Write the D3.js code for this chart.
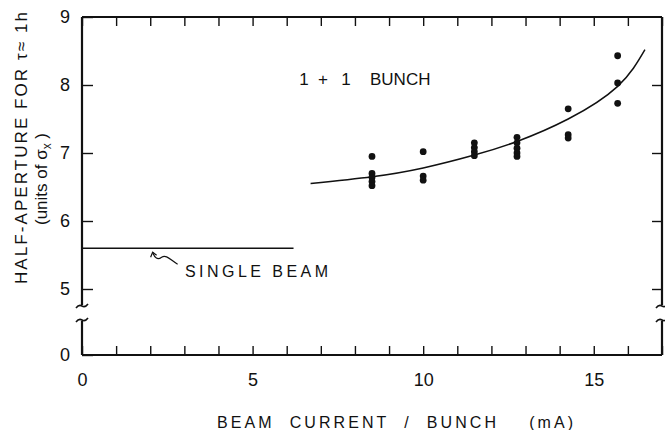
<!DOCTYPE html>
<html>
<head>
<meta charset="utf-8">
<script src="https://cdn.jsdelivr.net/npm/d3@7"></script>
<style>
  body { margin: 0; background: #fff; }
  svg { display: block; font-family: "Liberation Sans", Arial, sans-serif; }
  .tick text { font-size: 18px; fill: #111; }
</style>
</head>
<body>
<svg id="chart" width="665" height="430"></svg>
<script>
// data
const xTicks = d3.range(0, 18);
const xLabels = [0, 5, 10, 15];
const yTicks = [0, 5, 6, 7, 8, 9];
const yRightTicks = [5, 6, 7, 8];

// measured points (beam current per bunch, half-aperture)
const ptCurrent = [8.5, 8.5, 8.5, 8.5, 8.5, 10, 10, 10, 11.5, 11.5, 11.5, 11.5,
  12.75, 12.75, 12.75, 12.75, 12.75, 14.25, 14.25, 14.25, 15.7, 15.7, 15.7];
const ptAperture = [6.95, 6.70, 6.64, 6.58, 6.52, 7.02, 6.66, 6.60, 7.15, 7.08, 7.02, 6.96,
  7.23, 7.15, 7.07, 7.00, 6.95, 7.65, 7.27, 7.22, 8.43, 8.03, 7.73];

// fitted curve
const fitCurrent = [6.7, 8.5, 10, 11.5, 12.75, 14.25, 15.7, 16.5];
const fitAperture = [6.55, 6.65, 6.78, 6.97, 7.17, 7.5, 7.98, 8.52];

// single beam level
const singleCurrent = [0, 6.2];
const singleAperture = [5.6, 5.6];

const svg = d3.select("#chart");

const x = d3.scaleLinear().domain([0, 17]).range([82, 662]);
// broken axis: 0 sits below the break, 5..9 is linear
const y = d3.scaleLinear().domain([0, 5, 9]).range([355, 289, 17]);

// ticks
svg.append("g")
  .attr("transform", `translate(0,${y(0)})`)
  .call(d3.axisBottom(x).tickValues(xTicks).tickSize(-9).tickPadding(18)
    .tickFormat(d => xLabels.includes(d) ? d : ""))
  .call(g => g.select(".domain").remove());

svg.append("g")
  .attr("transform", `translate(0,${y(9)})`)
  .call(d3.axisTop(x).tickValues(xTicks).tickSize(-9).tickFormat(""))
  .call(g => g.select(".domain").remove());

svg.append("g")
  .attr("transform", `translate(${x(0)},0)`)
  .call(d3.axisLeft(y).tickValues(yTicks).tickSize(-11).tickPadding(12))
  .call(g => g.select(".domain").remove());

svg.append("g")
  .attr("transform", `translate(${x(17)},0)`)
  .call(d3.axisRight(y).tickValues(yRightTicks).tickSize(-10).tickFormat(""))
  .call(g => g.select(".domain").remove());

svg.selectAll(".tick line").attr("stroke", "#111").attr("stroke-width", 1.4);

// frame with axis breaks
const frame = svg.append("g").attr("fill", "none").attr("stroke", "#111").attr("stroke-width", 2.2);
const brkTop = y(5) + 16, brkBot = y(5) + 32;
frame.append("line").attr("x1", x(0)).attr("x2", x(17)).attr("y1", y(9)).attr("y2", y(9));
frame.append("line").attr("x1", x(0)).attr("x2", x(17)).attr("y1", y(0)).attr("y2", y(0));
[x(0), x(17)].forEach(ax => {
  frame.append("line").attr("x1", ax).attr("x2", ax).attr("y1", y(9)).attr("y2", brkTop);
  frame.append("line").attr("x1", ax).attr("x2", ax).attr("y1", brkBot).attr("y2", y(0));
  frame.append("path").attr("stroke-width", 1.6)
    .attr("d", `M${ax - 6},${brkTop + 3} q3,-4 6,-2 t6,-2`);
  frame.append("path").attr("stroke-width", 1.6)
    .attr("d", `M${ax - 6},${brkBot + 1} q3,-4 6,-2 t6,-2`);
});

// single beam line
svg.append("line")
  .attr("x1", x(singleCurrent[0])).attr("x2", x(singleCurrent[1]))
  .attr("y1", y(singleAperture[0])).attr("y2", y(singleAperture[1]))
  .attr("stroke", "#111").attr("stroke-width", 1.4);

// little arrow pointing at it
const ax0 = x(2.07), ay0 = y(5.6) + 4;
svg.append("path")
  .attr("fill", "none").attr("stroke", "#111").attr("stroke-width", 1.2)
  .attr("d", `M${ax0 + 25},${ay0 + 12} C${ax0 + 18},${ay0 + 8} ${ax0 + 14},${ay0 + 2} ${ax0 + 9},${ay0 + 5} C${ax0 + 5},${ay0 + 8} ${ax0 + 2},${ay0 + 6} ${ax0},${ay0}`);
svg.append("path")
  .attr("fill", "none").attr("stroke", "#111").attr("stroke-width", 1.2)
  .attr("d", `M${ax0 - 2},${ay0 + 5} L${ax0},${ay0} L${ax0 + 4},${ay0 + 3}`);

svg.append("text")
  .attr("x", 185).attr("y", 277)
  .attr("font-size", 16).attr("fill", "#111")
  .attr("textLength", 143).attr("lengthAdjust", "spacing")
  .text("SINGLE BEAM");

// "1 + 1  BUNCH" label, pieces spaced like the hand lettering
const bunchLabel = [["1", 304], ["+", 323], ["1", 346], ["BUNCH", 370]];
svg.append("g")
  .selectAll("text")
  .data(bunchLabel)
  .join("text")
  .attr("x", d => d[1]).attr("y", 85)
  .attr("font-size", 17).attr("fill", "#111")
  .attr("text-anchor", d => d[0] === "BUNCH" ? "start" : "middle")
  .text(d => d[0]);

// fitted curve
const line = d3.line()
  .x((d, i) => x(fitCurrent[i]))
  .y((d, i) => y(fitAperture[i]))
  .curve(d3.curveNatural);

svg.append("path")
  .datum(fitCurrent)
  .attr("fill", "none").attr("stroke", "#111").attr("stroke-width", 1.5)
  .attr("d", line);

// data dots
svg.append("g")
  .selectAll("circle")
  .data(ptCurrent)
  .join("circle")
  .attr("cx", d => x(d))
  .attr("cy", (d, i) => y(ptAperture[i]))
  .attr("r", 3.4)
  .attr("fill", "#111");

// axis titles
svg.append("text")
  .attr("x", 217).attr("y", 428)
  .attr("font-size", 16).attr("fill", "#111")
  .attr("textLength", 356).attr("lengthAdjust", "spacing")
  .attr("xml:space", "preserve")
  .text("BEAM  CURRENT  /  BUNCH    (mA)");

svg.append("text")
  .attr("transform", "translate(27,148) rotate(-90)")
  .attr("text-anchor", "middle")
  .attr("font-size", 17).attr("fill", "#111")
  .attr("textLength", 272).attr("lengthAdjust", "spacing")
  .text("HALF-APERTURE FOR τ≈ 1h");

const sub = svg.append("text")
  .attr("transform", "translate(47,179) rotate(-90)")
  .attr("text-anchor", "middle")
  .attr("font-size", 17).attr("fill", "#111");
sub.append("tspan").text("(units of σ");
sub.append("tspan").attr("font-size", 12).attr("dy", 4).text("x");
sub.append("tspan").attr("dy", -4).text(" )");
</script>
</body>
</html>
